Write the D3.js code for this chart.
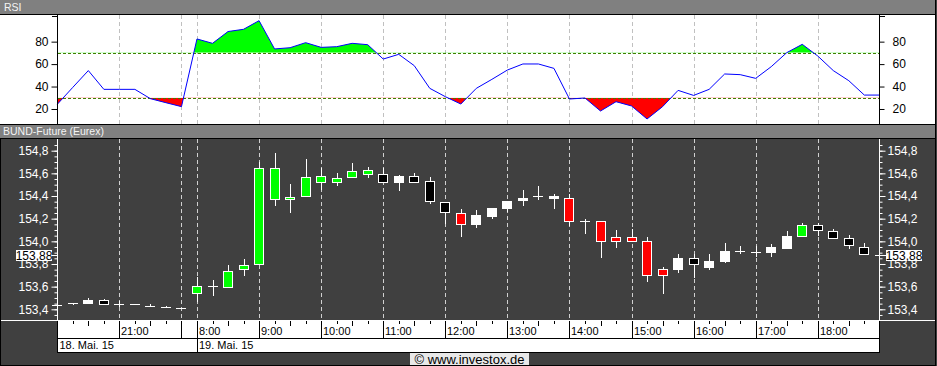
<!DOCTYPE html>
<html>
<head>
<meta charset="utf-8">
<script src="https://cdn.jsdelivr.net/npm/d3@7"></script>
<style>
  body { margin: 0; background: #404040; }
  svg { display: block; font-family: "Liberation Sans", Arial, sans-serif; }
</style>
</head>
<body>
<script>
'use strict';

// 15 minute bars, BUND-Future (Eurex), 18./19. Mai 2015
const times = ["20:00","20:15","20:30","20:45","21:00","21:15","21:30","21:45","22:00",
  "8:00","8:15","8:30","8:45","9:00","9:15","9:30","9:45","10:00","10:15","10:30","10:45",
  "11:00","11:15","11:30","11:45","12:00","12:15","12:30","12:45","13:00","13:15","13:30","13:45",
  "14:00","14:15","14:30","14:45","15:00","15:15","15:30","15:45","16:00","16:15","16:30","16:45",
  "17:00","17:15","17:30","17:45","18:00","18:15","18:30","18:45"];

const opens = [153.435,153.453,153.453,153.48,153.447,153.444,153.426,153.418,153.409,
  153.541,153.608,153.6,153.753,153.797,154.371,154.371,154.403,154.521,154.526,154.565,154.597,
  154.591,154.526,154.574,154.53,154.344,154.247,154.15,154.226,154.291,154.362,154.397,154.385,
  154.38,154.182,154.177,154.038,154.04,154.005,153.753,153.758,153.853,153.776,153.829,153.917,
  153.908,153.903,153.945,154.05,154.141,154.091,154.032,153.947];
const highs = [153.435,153.453,153.497,153.49,153.473,153.444,153.447,153.426,153.409,
  153.688,153.659,153.791,153.841,154.703,154.782,154.506,154.724,154.644,154.603,154.691,154.659,
  154.644,154.583,154.603,154.565,154.35,154.285,154.276,154.291,154.353,154.453,154.488,154.418,
  154.418,154.197,154.18,154.1,154.106,154.035,153.771,153.888,153.888,153.888,153.983,153.959,
  153.959,153.976,154.094,154.164,154.164,154.111,154.056,153.983];
const lows = [153.435,153.435,153.453,153.444,153.423,153.444,153.426,153.418,153.409,
  153.462,153.52,153.6,153.697,153.797,154.315,154.253,154.389,154.453,154.491,154.565,154.561,
  154.512,154.447,154.517,154.332,154.15,154.04,154.12,154.194,154.256,154.314,154.365,154.288,
  154.135,154.067,153.855,153.938,154.0,153.644,153.532,153.718,153.674,153.747,153.806,153.885,
  153.864,153.864,153.93,154.035,154.05,154.023,153.93,153.888];
const closes = [153.435,153.453,153.48,153.444,153.447,153.444,153.426,153.418,153.409,
  153.606,153.608,153.738,153.791,154.65,154.65,154.389,154.565,154.574,154.556,154.62,154.629,
  154.526,154.574,154.526,154.353,154.256,154.15,154.23,154.291,154.353,154.385,154.397,154.4,
  154.177,154.182,154.0,154.0,154.0,153.703,153.703,153.853,153.8,153.826,153.912,153.917,
  153.908,153.947,154.047,154.141,154.097,154.032,153.965,153.888];
const bodyColors = ["white","white","white","black","white","white","white","white","white",
  "green","white","green","green","green","green","green","green","green","green","green","green",
  "black","white","black","black","black","red","white","white","white","white","white","white",
  "red","white","red","red","red","red","red","white","black","white","white","white",
  "white","white","white","green","black","black","black","black"];

const rsi = [24.2,39.3,54.2,37.5,37.5,37.5,29.2,25.6,22.1,
  82.4,78.5,89,91,98.7,73.5,74.6,79.1,74.9,75.5,78.5,77.3,
  64.5,68.7,58.6,38.4,31,24.4,38.4,46.4,54.7,60.1,60.1,56.2,
  28.9,29.8,18.2,26.5,22.7,11.1,22.1,36.6,32.1,37.5,51.2,50.6,
  47.3,57.7,70.2,77.6,67.2,54.2,45.2,32.4];

const hourLabels = ["21:00","8:00","9:00","10:00","11:00","12:00","13:00","14:00","15:00","16:00","17:00","18:00"];
const sessionBreaks = ["22:00"];
const dateLabels = ["18. Mai. 15","19. Mai. 15"];
const dateStarts = ["20:00","8:00"];
const rsiTicks = [20,40,60,80];
const priceTicks = [153.4,153.6,153.8,154.0,154.2,154.4,154.6,154.8];
const lastPrice = 153.88;

const colorMap = { green: "#00ff00", red: "#ff0000", white: "#ffffff", black: "#000000" };
const fmt = d3.format(".1f");
const comma = s => s.replace(".", ",");

const W = 937, H = 366;
const L = 58, R = 879;
const svg = d3.select('body').append('svg').attr('width', W).attr('height', H);

// scales
const x = d3.scaleLinear().domain([0, times.length - 1]).range([57.3, 57.3 + 15.52 * (times.length - 1)]);
const yR = d3.scaleLinear().domain([0, 100]).range([131.44, 19.2]);
const yP = d3.scaleLinear().domain([153.4, 154.8]).range([309.3, 150.7]);
const px = i => Math.round(x(i)) + 0.5;

// backgrounds and title bars
svg.append('rect').attr('width', W).attr('height', H).attr('fill', '#404040');
svg.append('rect').attr('x', 0).attr('y', 14).attr('width', 935).attr('height', 110).attr('fill', '#fff');
svg.append('rect').attr('x', 0).attr('y', 0).attr('width', 935).attr('height', 14).attr('fill', '#808080');
svg.append('rect').attr('x', 0).attr('y', 124).attr('width', 935).attr('height', 14).attr('fill', '#808080');
[14.5, 124.5, 138.5].forEach(yy => {
  svg.append('line').attr('x1', 0).attr('x2', 935).attr('y1', yy).attr('y2', yy)
    .attr('stroke', '#000');
});
svg.append('text').attr('x', 4).attr('y', 11).attr('fill', '#f4f4f4')
  .style('font-size', '10.5px').text('RSI');
svg.append('text').attr('x', 3).attr('y', 135).attr('fill', '#f4f4f4')
  .style('font-size', '10.5px').text('BUND-Future (Eurex)');

const gridIdx = hourLabels.concat(sessionBreaks).map(t => times.indexOf(t));

// ---------- RSI panel ----------
const rsiG = svg.append('g');
gridIdx.forEach(i => {
  rsiG.append('line').attr('x1', px(i)).attr('x2', px(i)).attr('y1', 15).attr('y2', 124)
    .attr('stroke', '#c0c0c0').attr('stroke-dasharray', '4,3');
});

const clipTop = svg.append('clipPath').attr('id', 'above70');
clipTop.append('rect').attr('x', L).attr('y', 15).attr('width', R - L).attr('height', yR(70) - 15);
const clipBot = svg.append('clipPath').attr('id', 'below30');
clipBot.append('rect').attr('x', L).attr('y', yR(30)).attr('width', R - L).attr('height', 124 - yR(30));

const rsiPts = rsi.map((v, i) => [x(i), yR(v)]);
rsiPts.push([R, yR(rsi[rsi.length - 1])]);

rsiG.append('path')
  .attr('d', d3.area().x(d => d[0]).y0(yR(70)).y1(d => d[1])(rsiPts))
  .attr('fill', '#00ff00').attr('clip-path', 'url(#above70)');
rsiG.append('path')
  .attr('d', d3.area().x(d => d[0]).y0(yR(30)).y1(d => d[1])(rsiPts))
  .attr('fill', '#ff0000').attr('clip-path', 'url(#below30)');

[30, 70].forEach(v => {
  rsiG.append('line').attr('x1', L).attr('x2', R)
    .attr('y1', Math.round(yR(v)) + 0.5).attr('y2', Math.round(yR(v)) + 0.5)
    .attr('stroke', '#3f7f00').attr('stroke-dasharray', '3,2');
});

rsiG.append('path')
  .attr('d', d3.line()(rsiPts))
  .attr('fill', 'none').attr('stroke', '#0000ff').attr('stroke-width', 1);

// rsi axes
rsiG.append('g').attr('transform', `translate(${L - 0.5},0)`)
  .call(d3.axisLeft(yR).tickValues(rsiTicks).tickSize(6).tickPadding(3).tickFormat(d3.format('d')))
  .call(g => g.select('.domain').attr('d', 'M0,15V124'))
  .call(g => g.selectAll('text').style('font-size', '12px').attr('fill', '#000'));
rsiG.append('g').attr('transform', `translate(${R + 0.5},0)`)
  .call(d3.axisRight(yR).tickValues(rsiTicks).tickSize(5).tickPadding(8).tickFormat(d3.format('d')))
  .call(g => g.select('.domain').attr('d', 'M0,15V124'))
  .call(g => g.selectAll('text').style('font-size', '12px').attr('fill', '#000'));
[L - 6, R].forEach(x0 => {
  rsiG.append('line').attr('x1', x0).attr('x2', x0 + 6).attr('y1', 16.5).attr('y2', 16.5).attr('stroke', '#000');
});

// ---------- price panel ----------
const pG = svg.append('g');
gridIdx.forEach(i => {
  pG.append('line').attr('x1', px(i)).attr('x2', px(i)).attr('y1', 139).attr('y2', 320)
    .attr('stroke', '#d0d0d0').attr('stroke-dasharray', '4,3');
});

const minorTicks = d3.range(153.35, 154.86, 0.05);
const leftAxis = d3.axisLeft(yP).tickValues(minorTicks).tickSize(3).tickFormat('');
const rightAxis = d3.axisRight(yP).tickValues(minorTicks).tickSize(3).tickFormat('');
pG.append('g').attr('transform', `translate(${L - 0.5},0)`).call(leftAxis)
  .call(g => g.select('.domain').attr('d', 'M0,139V320'));
pG.append('g').attr('transform', `translate(${R + 0.5},0)`).call(rightAxis)
  .call(g => g.select('.domain').attr('d', 'M0,139V320'));
pG.append('g').attr('transform', `translate(${L - 0.5},0)`)
  .call(d3.axisLeft(yP).tickValues(priceTicks).tickSize(6).tickPadding(3).tickFormat(d => comma(fmt(d))))
  .call(g => g.select('.domain').remove());
pG.append('g').attr('transform', `translate(${R + 0.5},0)`)
  .call(d3.axisRight(yP).tickValues(priceTicks).tickSize(6).tickPadding(2).tickFormat(d => comma(fmt(d))))
  .call(g => g.select('.domain').remove());
pG.selectAll('.tick line, .domain').attr('stroke', '#fff');
pG.selectAll('.tick text').style('font-size', '12px').attr('fill', '#fff');

// candles
const candles = d3.range(times.length);
const cG = pG.append('g').attr('shape-rendering', 'crispEdges');
cG.selectAll('.wick').data(candles).enter().append('line')
  .attr('x1', px).attr('x2', px)
  .attr('y1', i => yP(highs[i])).attr('y2', i => yP(lows[i]))
  .attr('stroke', '#fff');
candles.forEach(i => {
  const top = yP(Math.max(opens[i], closes[i]));
  const bot = yP(Math.min(opens[i], closes[i]));
  const c = Math.round(x(i));
  if (bot - top < 1.5) {
    cG.append('line').attr('x1', c - 5).attr('x2', c + 5)
      .attr('y1', Math.round(top) + 0.5).attr('y2', Math.round(top) + 0.5)
      .attr('stroke', '#fff');
  } else {
    cG.append('rect').attr('x', c - 4.5).attr('y', Math.round(top) + 0.5)
      .attr('width', 9).attr('height', Math.max(1, Math.round(bot) - Math.round(top)))
      .attr('fill', colorMap[bodyColors[i]]).attr('stroke', '#fff');
  }
});

// last price markers
const yl = Math.round(yP(lastPrice));
pG.append('line').attr('x1', 50).attr('x2', L).attr('y1', yl + 0.5).attr('y2', yl + 0.5).attr('stroke', '#fff');
pG.append('line').attr('x1', 875).attr('x2', 887).attr('y1', yl + 0.5).attr('y2', yl + 0.5).attr('stroke', '#fff');
[[16, 52], [886, 922]].forEach(([a, b]) => {
  pG.append('rect').attr('x', a).attr('y', yl - 5).attr('width', b - a).attr('height', 11).attr('fill', '#fff');
  pG.append('text').attr('x', (a + b) / 2).attr('y', yl + 4.5).attr('text-anchor', 'middle')
    .style('font-size', '12px').attr('fill', '#000').text(comma(lastPrice.toFixed(2)));
});

svg.append('line').attr('x1', 0).attr('x2', 935).attr('y1', 320.5).attr('y2', 320.5).attr('stroke', '#fff');

// ---------- time axis ----------
const tG = svg.append('g').attr('shape-rendering', 'crispEdges');
tG.append('rect').attr('x', L).attr('y', 321).attr('width', R - L).attr('height', 31).attr('fill', '#fff');
tG.append('line').attr('x1', L).attr('x2', R).attr('y1', 338.5).attr('y2', 338.5).attr('stroke', '#000');
tG.append('line').attr('x1', L - 1).attr('x2', R + 1).attr('y1', 352.5).attr('y2', 352.5).attr('stroke', '#000');
tG.append('line').attr('x1', L - 0.5).attr('x2', L - 0.5).attr('y1', 321).attr('y2', 353).attr('stroke', '#000');
tG.append('line').attr('x1', R + 0.5).attr('x2', R + 0.5).attr('y1', 321).attr('y2', 353).attr('stroke', '#000');

candles.forEach(i => {
  const m = times[i].split(':')[1];
  if (m === '00') return;
  tG.append('line').attr('x1', px(i)).attr('x2', px(i)).attr('y1', 321)
    .attr('y2', m === '30' ? 326 : 323.5).attr('stroke', '#000');
});
gridIdx.forEach(i => {
  tG.append('line').attr('x1', px(i)).attr('x2', px(i)).attr('y1', 321).attr('y2', 338).attr('stroke', '#000');
});
hourLabels.forEach(t => {
  const i = times.indexOf(t);
  tG.append('text').attr('x', px(i) + 1.5).attr('y', 335).style('font-size', '11px')
    .attr('fill', '#000').attr('shape-rendering', null).text(t);
});
dateLabels.forEach((d, k) => {
  const i = times.indexOf(dateStarts[k]);
  const xx = Math.max(L + 1.5, px(i) + 1.5);
  if (k > 0) {
    tG.append('line').attr('x1', px(i)).attr('x2', px(i)).attr('y1', 338).attr('y2', 352).attr('stroke', '#000');
  }
  tG.append('text').attr('x', xx).attr('y', 349).style('font-size', '11px').attr('fill', '#000').text(d);
});

// copyright + frame
svg.append('rect').attr('x', 410).attr('y', 353).attr('width', 119).attr('height', 12).attr('fill', '#e8e8e8');
svg.append('text').attr('x', 469.5).attr('y', 363.5).attr('text-anchor', 'middle')
  .style('font-size', '13px').attr('fill', '#000').text('© www.investox.de');
svg.append('line').attr('x1', 935.5).attr('x2', 935.5).attr('y1', 0).attr('y2', 366).attr('stroke', '#000');
svg.append('line').attr('x1', 0).attr('x2', 936).attr('y1', 365.5).attr('y2', 365.5).attr('stroke', '#000');
svg.append('line').attr('x1', 0.5).attr('x2', 0.5).attr('y1', 139).attr('y2', 366).attr('stroke', '#000');
</script>
</body>
</html>
